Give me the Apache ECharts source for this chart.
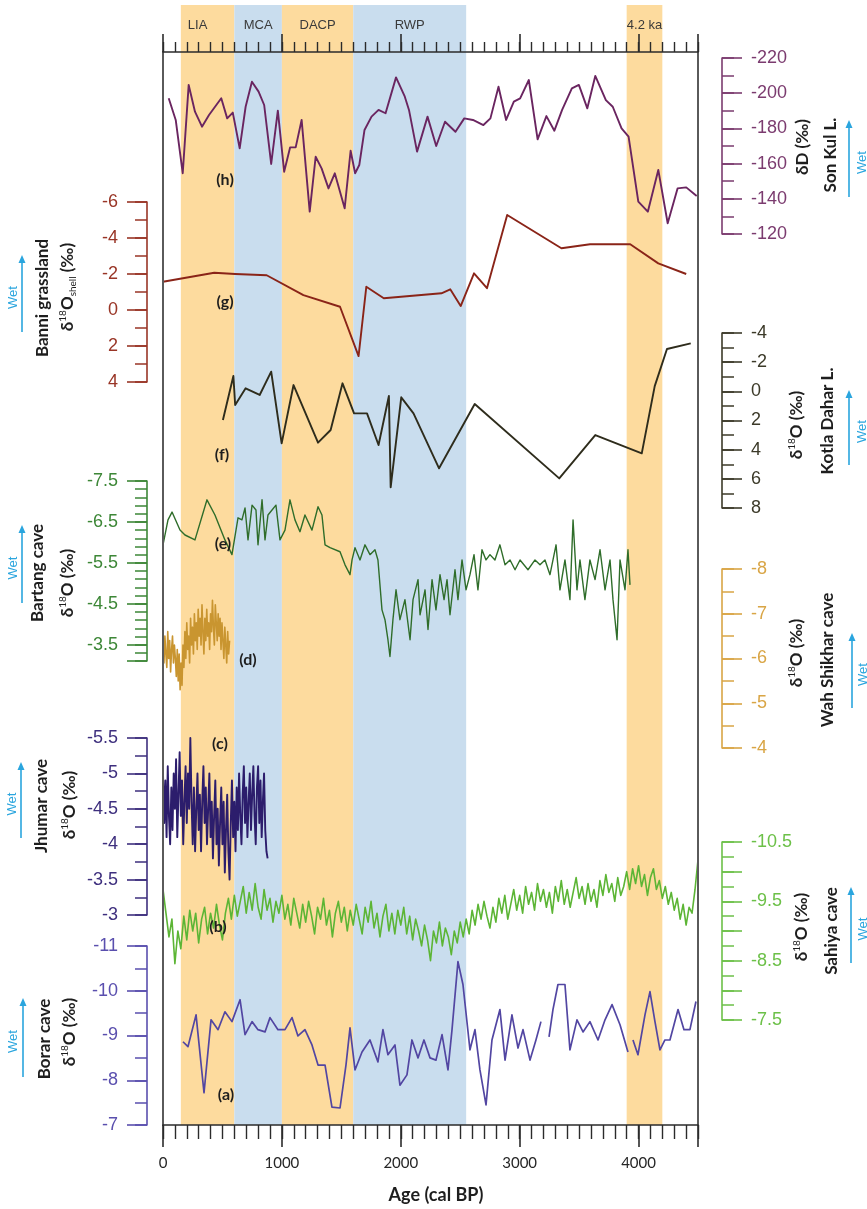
<!DOCTYPE html>
<html>
<head>
<meta charset="utf-8">
<script src="https://cdn.jsdelivr.net/npm/echarts@6/dist/echarts.min.js"></script>
<style>
  html, body { margin: 0; padding: 0; background: #ffffff; }
  #chart { width: 867px; height: 1209px; }
</style>
</head>
<body>
<div id="chart"></div>
<script>
// ---------------- climate periods ----------------
const bandNames = ['LIA', 'MCA', 'DACP', 'RWP', '4.2 ka'];
const bandStart = [150, 600, 1000, 1600, 3900];
const bandEnd   = [600, 1000, 1600, 2550, 4200];
const bandKind  = ['dry', 'wet', 'dry', 'wet', 'dry'];

// ---------------- age axis ----------------
const ageLabels = [0, 1000, 2000, 3000, 4000];
const ageMax = 4500;

// ---------------- (h) Son Kul L. dD ----------------
const sonKulAge = [48,107,166,216,269,328,387,490,540,587,645,695,748,804,851,910,966,1019,1069,1116,
  1166,1234,1284,1334,1392,1445,1528,1578,1616,1651,1695,1754,1813,1872,1960,2034,2069,2137,2225,2298,
  2372,2460,2534,2607,2695,2754,2822,2886,2951,3004,3077,3151,3225,3292,3357,3439,3498,3569,3636,3725,
  3783,3857,3916,3998,4078,4166,4245,4328,4401,4489];
const sonKulD = [-197.1,-184.8,-154.5,-204.7,-189.5,-181.0,-187.6,-197.1,-185.7,-189.0,
  -168.7,-192.3,-206.5,-200.9,-193.3,-159.8,-190.1,-155.4,-169.2,-169.2,
  -184.8,-132.7,-163.9,-157.3,-145.9,-154.5,-134.6,-167.3,-154.5,-159.2,
  -179.1,-186.7,-190.5,-188.6,-209.0,-198.0,-190.5,-166.8,-186.7,-170.0,
  -183.8,-178.1,-185.7,-184.8,-181.9,-185.7,-203.7,-184.8,-195.2,-197.1,
  -207.5,-173.8,-187.0,-178.7,-190.5,-202.8,-204.7,-191.4,-209.8,-196.1,
  -192.3,-180.0,-175.3,-138.4,-132.7,-156.4,-126.1,-145.9,-146.5,-141.6];
const sonKulTicks = [-220, -200, -180, -160, -140, -120];

// ---------------- (g) Banni grassland d18O shell ----------------
const banniAge = [0,431,607,872,1181,1489,1645,1710,1857,2342,2416,2504,2616,2725,2895,3351,3592,3930,4166,4401];
const banniO = [-1.57,-2.07,-2.0,-1.93,-0.83,-0.18,2.56,-1.29,-0.65,-0.93,-1.15,-0.22,-2.04,-1.21,-5.28,-3.43,-3.65,-3.65,-2.59,-2.0];
const banniTicks = [-6, -4, -2, 0, 2, 4];

// ---------------- (f) Kotla Dahar L. d18O ----------------
const kotlaAge = [504,592,607,695,813,910,998,1098,1304,1410,1510,1607,1716,1813,1900,1915,2004,2107,2322,2622,3333,3636,4027,4136,4239,4439];
const kotlaO = [1.97,-1.05,0.94,-0.21,0.25,-1.35,3.57,-0.43,3.52,2.65,-0.55,1.51,1.51,3.68,0.32,6.58,0.41,1.51,5.28,0.87,5.97,3.0,4.25,-0.36,-2.90,-3.29];
const kotlaTicks = [-4, -2, 0, 2, 4, 6, 8];

// ---------------- (e) Bartang cave d18O ----------------
const bartangAge = [0,42,76,143,185,269,370,437,521,580,631,664,690,715,749,782,799,833,858,883,
  917,950,984,1026,1068,1110,1152,1194,1253,1304,1337,1363,1405,1489,1531,1573,1590,1615,1657,1699,
  1741,1783,1808,1842,1867,1892,1909,1934,1960,1993,2035,2078,2103,2145,2162,2204,2229,2263,2296,2330,
  2364,2389,2414,2456,2481,2515,2549,2582,2616,2649,2683,2717,2750,2792,2834,2877,2919,2961,3003,3070,
  3129,3171,3213,3255,3306,3339,3381,3423,3449,3482,3507,3549,3591,3634,3676,3718,3760,3785,3819,3844,
  3886,3911,3928];
const bartangO = [-5.94,-6.55,-6.74,-6.30,-6.18,-6.06,-7.04,-6.67,-6.06,-5.70,-6.60,-6.55,-6.84,-6.06,-6.91,-6.79,-5.94,-7.04,-6.06,-6.67,
  -6.79,-6.91,-6.06,-6.30,-7.04,-6.55,-6.26,-6.67,-6.30,-6.87,-6.67,-5.94,-5.87,-5.77,-5.45,-5.21,-5.57,-5.87,-5.57,-5.94,
  -5.70,-5.82,-5.57,-4.35,-4.11,-3.62,-3.21,-4.11,-4.84,-4.11,-4.60,-3.62,-4.60,-5.09,-4.23,-4.84,-3.87,-5.09,-4.35,-5.21,
  -4.60,-5.09,-4.23,-5.33,-4.60,-5.57,-4.84,-5.21,-5.70,-4.84,-5.82,-5.57,-5.70,-5.57,-5.94,-5.45,-5.57,-5.33,-5.57,-5.33,
  -5.57,-5.45,-5.57,-5.21,-5.94,-4.84,-5.57,-4.60,-6.55,-4.84,-5.57,-4.60,-5.57,-5.09,-5.82,-4.84,-5.57,-4.60,-3.62,-5.57,
  -4.84,-5.82,-4.96];
const bartangTicks = [-7.5, -6.5, -5.5, -4.5, -3.5];

// ---------------- (d) Wah Shikhar cave d18O ----------------
const wahAge = [0,8,16,24,32,40,48,56,64,72,80,88,96,104,112,120,128,136,144,152,160,168,176,184,192,200,208,216,224,232,
  240,248,256,264,272,280,288,296,304,312,320,328,336,344,352,360,368,376,384,392,400,408,416,424,432,440,448,456,464,472,
  480,488,496,504,512,520,528,536,544,552,560];
const wahO = [-6.3,-5.9,-6.5,-6.1,-5.8,-6.6,-6.0,-6.4,-5.7,-6.2,-6.5,-5.9,-6.3,-6.0,-5.6,-6.2,-5.5,-6.1,-5.3,-5.9,
  -5.4,-6.3,-5.8,-6.6,-6.0,-6.8,-6.2,-6.5,-5.9,-6.9,-6.3,-6.7,-6.1,-7.0,-6.4,-6.8,-6.2,-7.1,-6.5,-6.9,
  -6.3,-7.2,-6.6,-6.1,-6.9,-6.4,-7.1,-6.5,-6.8,-6.2,-7.0,-6.6,-7.3,-6.7,-6.3,-7.2,-6.8,-6.4,-7.0,-6.5,
  -6.9,-6.2,-6.8,-6.4,-6.0,-6.7,-6.3,-5.9,-6.6,-6.1,-6.4];
const wahTicks = [-8, -7, -6, -5, -4];

// ---------------- (c) Jhumar cave d18O ----------------
const jhumarAge = [0,10,20,30,40,50,60,70,80,90,100,110,120,130,140,150,160,170,180,190,
  200,210,220,230,240,250,260,270,280,290,300,310,320,330,340,350,360,370,380,390,
  400,410,420,430,440,450,460,470,480,490,500,510,520,530,540,550,560,570,580,590,
  600,610,620,630,640,650,660,670,680,690,700,710,720,730,740,750,760,770,780,790,
  800,810,820,830,840,850,860,870,880];
const jhumarO = [-5.0,-4.3,-4.9,-4.1,-5.1,-4.4,-4.0,-4.8,-4.2,-5.0,
  -4.5,-5.2,-4.1,-4.7,-5.3,-4.4,-4.9,-4.0,-4.6,-5.1,
  -4.3,-5.0,-4.5,-5.5,-4.6,-4.0,-4.8,-3.9,-4.5,-5.0,
  -4.2,-4.7,-3.9,-4.6,-5.1,-4.3,-4.8,-4.0,-4.5,-5.0,
  -4.1,-4.6,-3.8,-4.4,-4.9,-4.0,-4.5,-3.7,-4.3,-4.8,
  -4.0,-4.6,-3.6,-4.2,-4.7,-3.9,-3.5,-4.3,-4.9,-4.1,
  -4.6,-3.9,-4.8,-4.2,-5.0,-4.4,-4.0,-4.7,-5.1,-4.3,
  -4.8,-4.1,-4.6,-5.0,-4.2,-4.7,-5.1,-4.4,-4.0,-4.8,
  -5.1,-4.3,-4.9,-4.1,-4.6,-5.0,-4.2,-3.9,-3.8];
const jhumarTicks = [-5.5, -5, -4.5, -4, -3.5, -3];

// ---------------- (b) Sahiya cave d18O ----------------
const sahiyaAge = [0,25,50,75,100,125,150,175,200,225,250,275,300,325,350,375,400,425,450,475,
  500,525,550,575,600,625,650,675,700,725,750,775,800,825,850,875,900,925,950,975,
  1000,1025,1050,1075,1100,1125,1150,1175,1200,1225,1250,1275,1300,1325,1350,1375,1400,1425,1450,1475,
  1500,1525,1550,1575,1600,1625,1650,1675,1700,1725,1750,1775,1800,1825,1850,1875,1900,1925,1950,1975,
  2000,2025,2050,2075,2100,2125,2150,2175,2200,2225,2250,2275,2300,2325,2350,2375,2400,2425,2450,2475,
  2500,2525,2550,2575,2600,2625,2650,2675,2700,2725,2750,2775,2800,2825,2850,2875,2900,2925,2950,2975,
  3000,3025,3050,3075,3100,3125,3150,3175,3200,3225,3250,3275,3300,3325,3350,3375,3400,3425,3450,3475,
  3500,3525,3550,3575,3600,3625,3650,3675,3700,3725,3750,3775,3800,3825,3850,3875,3900,3925,3950,3975,
  4000,4025,4050,4075,4100,4125,4150,4175,4200,4225,4250,4275,4300,4325,4350,4375,4400,4425,4450,4475,
  4500];
const sahiyaO = [-9.70,-9.30,-8.90,-9.20,-8.45,-9.00,-8.70,-9.25,-8.85,-9.35,
  -9.00,-9.30,-8.80,-9.20,-9.40,-8.95,-9.30,-9.05,-9.45,-9.10,
  -8.85,-9.30,-9.55,-9.20,-9.60,-9.25,-9.50,-9.75,-9.30,-9.65,
  -9.35,-9.80,-9.40,-9.20,-9.70,-9.35,-9.55,-9.15,-9.50,-9.30,
  -9.60,-9.20,-9.45,-9.10,-9.55,-9.30,-9.05,-9.45,-9.15,-9.50,
  -9.25,-8.95,-9.40,-9.20,-9.55,-9.10,-9.35,-8.90,-9.30,-9.50,
  -9.15,-9.40,-9.00,-9.35,-9.10,-9.45,-9.20,-8.95,-9.40,-9.15,
  -9.50,-9.05,-9.30,-8.90,-9.25,-9.45,-9.00,-9.30,-8.95,-9.35,
  -9.10,-9.40,-8.95,-9.25,-8.85,-9.20,-9.00,-8.75,-9.10,-8.85,
  -8.50,-9.00,-8.80,-9.15,-8.75,-9.05,-8.90,-8.60,-9.00,-8.80,
  -9.15,-8.90,-9.20,-8.95,-9.35,-9.10,-9.45,-9.20,-9.50,-9.25,
  -9.05,-9.40,-9.15,-9.55,-9.30,-9.60,-9.20,-9.45,-9.70,-9.35,
  -9.60,-9.30,-9.75,-9.45,-9.65,-9.35,-9.80,-9.50,-9.70,-9.40,
  -9.65,-9.30,-9.75,-9.50,-9.85,-9.45,-9.70,-9.40,-9.65,-9.90,
  -9.55,-9.75,-9.45,-9.80,-9.50,-9.70,-9.40,-9.85,-9.60,-9.95,
  -9.65,-9.80,-9.50,-9.90,-9.60,-9.75,-10.00,-9.70,-10.05,-9.80,
  -10.10,-9.75,-9.95,-9.60,-9.90,-10.05,-9.70,-9.85,-9.55,-9.75,
  -9.45,-9.65,-9.35,-9.55,-9.20,-9.45,-9.10,-9.40,-9.30,-9.70,
  -10.20];
const sahiyaTicks = [-10.5, -9.5, -8.5, -7.5];

// ---------------- (a) Borar cave d18O (null = hiatus) ----------------
const borarAge = [168,210,278,345,404,463,521,580,648,690,749,799,858,900,967,1026,1085,1135,1194,1253,1304,1363,1421,1489,1539,1573,1615,1674,1741,1808,1850,1892,1951,1993,2052,2094,2145,2195,2246,2296,2347,2397,2431,2481,2523,2582,2624,2666,2717,2767,2834,2877,2935,2986,3028,3087,3137,3179,3213,3247,3280,3322,3381,3423,3482,3533,3591,3659,3718,3777,3844,3911,3932,3953,3995,4054,4096,4138,4180,4222,4264,4332,4382,4432,4483];
const borarO = [-8.86,-8.75,-9.46,-7.72,-9.35,-9.13,-9.53,-9.31,-9.80,-9.02,-9.31,-9.13,-9.08,-9.40,-9.13,-9.13,-9.40,-8.99,-9.13,-8.79,-8.34,-8.34,-7.40,-7.38,-8.34,-9.17,-8.23,-8.63,-8.90,-8.41,-9.13,-8.57,-8.79,-7.89,-8.12,-8.90,-8.50,-8.90,-8.50,-8.45,-9.02,-8.23,-9.13,-10.65,-10.14,-8.68,-9.13,-8.23,-7.45,-8.90,-9.58,-8.45,-9.46,-8.72,-9.13,-8.45,-8.90,-9.31,null,-8.97,-9.58,-10.14,-10.14,-8.68,-9.35,-9.08,-9.31,-8.90,-9.35,-9.69,-9.24,-8.63,null,-8.90,-8.57,-9.46,-9.98,-9.31,-8.68,-8.90,-8.90,-9.58,-9.13,-9.13,-9.76];
const borarTicks = [-11, -10, -9, -8, -7];

// ---------------- layout ----------------
const CW = 867, CH = 1209;
const PL = 163, PR = 698, PT = 52, PB = 1125;

const panels = [
  { age: sonKulAge, val: sonKulD, ticks: sonKulTicks, labels: sonKulTicks, min: -220, max: -120, minor: 10,
    side: 'right', top: 58, bottom: 234, axis: '#7b3b6f', line: '#6a2560', width: 1.9 },
  { age: banniAge, val: banniO, ticks: banniTicks, labels: banniTicks, min: -6, max: 4, minor: 1,
    side: 'left', top: 202, bottom: 382, axis: '#993526', line: '#8a2418', width: 1.9 },
  { age: kotlaAge, val: kotlaO, ticks: kotlaTicks, labels: kotlaTicks, min: -4, max: 8, minor: 1,
    side: 'right', top: 333, bottom: 508, axis: '#3c3a29', line: '#2e2c1c', width: 1.9 },
  { age: bartangAge, val: bartangO, ticks: bartangTicks.concat([-3.1]), labels: bartangTicks, min: -7.5, max: -3.1, minor: 0.2,
    side: 'left', top: 481, bottom: 661, axis: '#3d8737', line: '#2f6d2a', width: 1.4 },
  { age: wahAge, val: wahO, ticks: wahTicks, labels: wahTicks, min: -8, max: -4, minor: 0.5,
    side: 'right', top: 569, bottom: 748, axis: '#d9a545', line: '#c99530', width: 1.6 },
  { age: jhumarAge, val: jhumarO, ticks: jhumarTicks, labels: jhumarTicks, min: -5.5, max: -3, minor: 0.25,
    side: 'left', top: 738, bottom: 915, axis: '#3e2f7e', line: '#2c1d6c', width: 1.9 },
  { age: sahiyaAge, val: sahiyaO, ticks: [-10.5, -10, -9.5, -9, -8.5, -8, -7.5], labels: sahiyaTicks, min: -10.5, max: -7.5, minor: 0.25,
    side: 'right', top: 842, bottom: 1020, axis: '#6cc048', line: '#5cb535', width: 1.6 },
  { age: borarAge, val: borarO, ticks: borarTicks, labels: borarTicks, min: -11, max: -7, minor: 0.5,
    side: 'left', top: 946, bottom: 1125, axis: '#5a4fae', line: '#5246a2', width: 1.7 }
];

function steps(a, b, s) {
  const out = [];
  const n = Math.round((b - a) / s);
  for (let i = 0; i <= n; i++) out.push(+(a + i * s).toFixed(4));
  return out;
}
function fmt(v) { return String(+(+v).toFixed(2)); }

const grids = [], xAxes = [], yAxes = [], series = [];
function addGrid(top, bottom) {
  grids.push({ left: PL, right: CW - PR, top: top, height: bottom - top });
  return grids.length - 1;
}
function hiddenX(gi) { xAxes.push({ gridIndex: gi, type: 'value', min: 0, max: ageMax, show: false }); return xAxes.length - 1; }
function hiddenY(gi) { yAxes.push({ gridIndex: gi, type: 'value', min: 0, max: 1, show: false }); return yAxes.length - 1; }

// period bands (reach above the top age axis)
const gBand = addGrid(5, PB);
const xb = hiddenX(gBand), yb = hiddenY(gBand);
series.push({
  type: 'line', xAxisIndex: xb, yAxisIndex: yb, data: [], z: 0, silent: true,
  markArea: {
    silent: true,
    data: bandNames.map((n, i) => [
      { name: n, xAxis: bandStart[i],
        itemStyle: { color: bandKind[i] === 'dry' ? '#fddb9e' : '#c9ddee' },
        label: { offset: [i === 0 ? -10 : 0, 0] } },
      { xAxis: bandEnd[i] }
    ]),
    label: { show: true, position: 'insideTop', distance: 14, color: '#3a3a3a',
      fontFamily: 'Liberation Sans', fontSize: 13 }
  }
});

// frame and age axes: major ticks on one grid, minor ticks on a twin grid
const axisInk = '#2b2b2b';
const majorAge = ageLabels.concat([ageMax]);
const minorAge = steps(0, ageMax, 100);
const gFrame = addGrid(PT, PB);
const gFrameMinor = addGrid(PT, PB);
[['bottom', 22, 14, true], ['top', 18, 10, false]].forEach(([pos, majLen, minLen, lab]) => {
  xAxes.push({
    gridIndex: gFrame, type: 'value', min: 0, max: ageMax, position: pos, z: 4,
    axisLine: { show: true, onZero: false, lineStyle: { color: axisInk, width: 1.6 } },
    axisTick: { show: true, inside: false, length: majLen, customValues: majorAge, lineStyle: { color: axisInk, width: 1.6 } },
    axisLabel: { show: lab, customValues: ageLabels, margin: 31, color: '#262626', fontFamily: 'Lato', fontSize: 15,
      formatter: v => String(v) },
    splitLine: { show: false }
  });
  xAxes.push({
    gridIndex: gFrameMinor, type: 'value', min: 0, max: ageMax, position: pos, z: 4,
    axisLine: { show: false, onZero: false },
    axisTick: { show: true, inside: false, length: minLen, customValues: minorAge, lineStyle: { color: axisInk, width: 1.4 } },
    axisLabel: { show: false }, splitLine: { show: false }
  });
});
['left', 'right'].forEach(pos => {
  yAxes.push({
    gridIndex: gFrame, type: 'value', min: 0, max: 1, position: pos, z: 4,
    axisLine: { show: true, onZero: false, lineStyle: { color: '#5a5a5a', width: 2 } },
    axisTick: { show: false }, axisLabel: { show: false }, splitLine: { show: false }
  });
});
hiddenY(gFrameMinor);

// one grid per record (plus a twin for its minor ticks), sharing the age scale
panels.forEach(p => {
  const off = p.side === 'left' ? 16 : 24;
  const gi = addGrid(p.top, p.bottom);
  const xi = hiddenX(gi);
  const yi = yAxes.length;
  yAxes.push({
    gridIndex: gi, type: 'value', min: p.min, max: p.max, inverse: true, position: p.side, offset: off, z: 4,
    axisLine: { show: true, onZero: false, lineStyle: { color: p.axis, width: 1.6 } },
    axisTick: { show: true, inside: false, length: 20, customValues: p.ticks, lineStyle: { color: p.axis, width: 1.6 } },
    axisLabel: { show: true, customValues: p.labels, margin: 29, color: p.axis, fontFamily: 'Liberation Sans', fontSize: 18,
      formatter: v => fmt(v) },
    splitLine: { show: false }
  });
  const gm = addGrid(p.top, p.bottom);
  hiddenX(gm);
  yAxes.push({
    gridIndex: gm, type: 'value', min: p.min, max: p.max, inverse: true, position: p.side, offset: off, z: 4,
    axisLine: { show: false, onZero: false },
    axisTick: { show: true, inside: false, length: 12, customValues: steps(p.min, p.max, p.minor), lineStyle: { color: p.axis, width: 1.5 } },
    axisLabel: { show: false }, splitLine: { show: false }
  });
  series.push({
    type: 'line', xAxisIndex: xi, yAxisIndex: yi, z: 3,
    showSymbol: false, symbol: 'none', connectNulls: false, animation: false,
    lineStyle: { color: p.line, width: p.width, join: 'round' },
    data: p.age.map((a, k) => [a, p.val[k] === null ? '-' : p.val[k]])
  });
});

// ---------------- annotations ----------------
const graphics = [];
const wetBlue = '#2aa5de';
const titleFont = 'Lato';

function vtext(x, y, text) {
  graphics.push({
    type: 'text', x: x, y: y, rotation: Math.PI / 2, z: 10,
    style: { text: text, align: 'center', verticalAlign: 'middle', fill: '#1e1e1e',
      fontFamily: titleFont, fontSize: 17, fontWeight: 'bold' }
  });
}
function d18(x, y, sub) {
  const t = sub ? '{d|δ}{s|18}{d|O}{b|shell}{d| (‰)}' : '{d|δ}{s|18}{d|O (‰)}';
  graphics.push({
    type: 'text', x: x, y: y, rotation: Math.PI / 2, z: 10,
    style: {
      text: t, align: 'center', verticalAlign: 'middle',
      rich: {
        d: { fontFamily: titleFont, fontSize: 17, fontWeight: 'bold', fill: '#1e1e1e', lineHeight: 20 },
        s: { fontFamily: titleFont, fontSize: 10, fill: '#1e1e1e', verticalAlign: 'top', lineHeight: 20 },
        b: { fontFamily: titleFont, fontSize: 10, fill: '#1e1e1e', verticalAlign: 'bottom', lineHeight: 20 }
      }
    }
  });
}
function wet(x, yHead, yTail, tx) {
  graphics.push({ type: 'polyline', z: 10, shape: { points: [[x, yTail], [x, yHead + 6]] },
    style: { stroke: wetBlue, lineWidth: 1.6, fill: null } });
  graphics.push({ type: 'polygon', z: 10, shape: { points: [[x, yHead], [x - 3.5, yHead + 8], [x + 3.5, yHead + 8]] },
    style: { fill: wetBlue } });
  graphics.push({ type: 'text', x: tx, y: (yHead + yTail) / 2 + 4, rotation: Math.PI / 2, z: 10,
    style: { text: 'Wet', align: 'center', verticalAlign: 'middle', fill: wetBlue, fontFamily: 'Liberation Sans', fontSize: 13 } });
}

// right side titles
vtext(803, 147, 'δD (‰)');
vtext(831, 155, 'Son Kul L.');
wet(849, 120, 197, 862);
d18(797, 425, false);
vtext(828, 421, 'Kotla Dahar L.');
wet(849, 390, 465, 862);
d18(797, 653, false);
vtext(828, 660, 'Wah Shikhar cave');
wet(852, 633, 708, 863);
d18(802, 927, false);
vtext(832, 931, 'Sahiya cave');
wet(851, 887, 963, 863);

// left side titles
vtext(43, 298, 'Banni grassland');
d18(68, 287, true);
wet(22, 255, 332, 13);
vtext(38, 573, 'Bartang cave');
d18(68, 583, false);
wet(22, 525, 603, 13);
vtext(42, 806, 'Jhumar cave');
d18(70, 805, false);
wet(21, 762, 838, 12);
vtext(45, 1039, 'Borar cave');
d18(70, 1032, false);
wet(23, 998, 1077, 13);

// record letters
[['(h)', 225, 180], ['(g)', 225, 302], ['(f)', 222, 455], ['(e)', 223, 544],
 ['(d)', 248, 660], ['(c)', 220, 744], ['(b)', 218, 927], ['(a)', 226, 1095]].forEach(([t, x, y]) => {
  graphics.push({ type: 'text', x: x, y: y, z: 10,
    style: { text: t, align: 'center', verticalAlign: 'middle', fill: '#1e1e1e', fontFamily: titleFont, fontSize: 16, fontWeight: 'bold' } });
});

// age axis title
graphics.push({ type: 'text', x: 436, y: 1195, z: 10,
  style: { text: 'Age (cal BP)', align: 'center', verticalAlign: 'middle', fill: '#1e1e1e', fontFamily: titleFont, fontSize: 18, fontWeight: 'bold' } });

const chart = echarts.init(document.getElementById('chart'), null, { renderer: 'canvas', width: CW, height: CH });
chart.setOption({
  animation: false,
  backgroundColor: '#ffffff',
  grid: grids,
  xAxis: xAxes,
  yAxis: yAxes,
  series: series,
  graphic: graphics
});
</script>
</body>
</html>
